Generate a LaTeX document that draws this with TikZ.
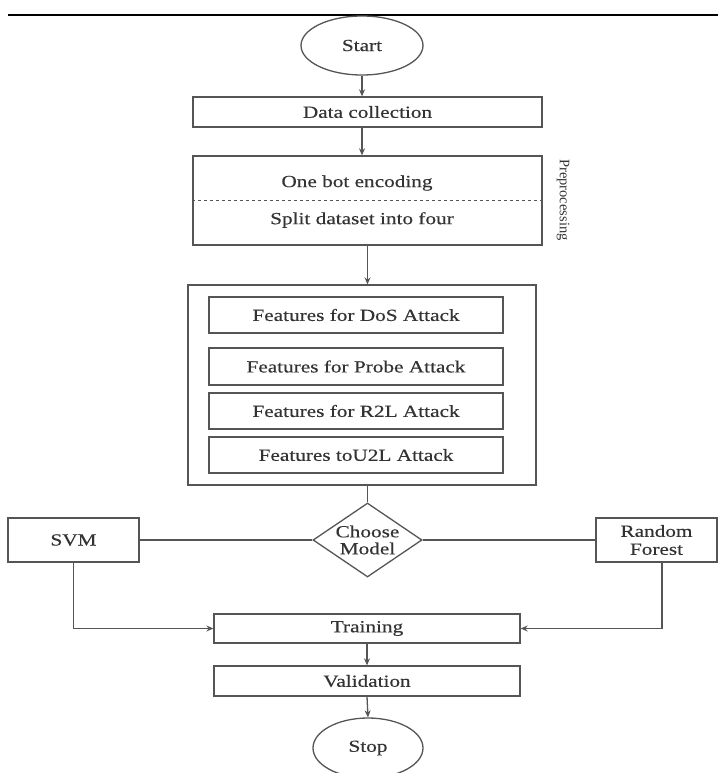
\documentclass[tikz,border=0pt]{standalone}
\usepackage{fontspec}
\setmainfont{Liberation Serif}[FakeStretch=1.25,FakeBold=0.4]
\newfontfamily\labelfont{Liberation Serif}
\usetikzlibrary{shapes.geometric,arrows.meta}
\definecolor{linec}{HTML}{555555}
\definecolor{textc}{HTML}{333333}
\tikzset{
  txt/.style={text=textc,font=\fontsize{17}{18}\selectfont},
  box/.style={draw=linec,line width=1.3pt,rectangle,inner sep=0pt,txt,align=center},
  oval/.style={draw=linec,line width=1.3pt,ellipse,inner sep=0pt,txt},
  plain/.style={txt,inner sep=0pt},
  conn/.style={draw=linec,line width=1.3pt},
  arr/.style={conn,-{Stealth[length=7pt,width=6pt]}}
}
\begin{document}
\begin{tikzpicture}[x=1pt,y=-1pt]
\useasboundingbox (0,0) rectangle (718,773);
\coordinate (tl) at (8,15);
\coordinate (tr) at (718,15);
\draw[line width=2.5pt,black] (tl) -- (tr);
\node[oval,minimum width=122pt,minimum height=59pt] (start) at (362,45.5) {Start};
\node[box,minimum width=349pt,minimum height=30pt] (data) at (367.5,112) {Data collection};
\node[box,minimum width=349pt,minimum height=89pt] (pre) at (367.5,200.5) {};
\draw[conn,line width=0.8pt,dashed] (pre.west) -- (pre.east);
\node[plain] (enc) at (357,183) {One bot encoding};
\node[plain] (split) at (362,220) {Split dataset into four};
\node[text=textc,inner sep=0pt,rotate=-90,font=\labelfont\fontsize{14.5}{16}\selectfont] (prel) at (563,200) {Preprocessing};
\node[box,minimum width=348pt,minimum height=200pt] (feat) at (362,385) {};
\node[box,minimum width=294pt,minimum height=36pt] (dos) at (356,315) {Features for DoS Attack};
\node[box,minimum width=294pt,minimum height=37pt] (probe) at (356,366.5) {Features for Probe Attack};
\node[box,minimum width=294pt,minimum height=36pt] (r2l) at (356,411) {Features for R2L Attack};
\node[box,minimum width=294pt,minimum height=36pt] (u2l) at (356,455) {Features toU2L Attack};
\node[box,diamond,minimum width=109pt,minimum height=74pt,aspect=1.47] (choose) at (367.5,540) {Choose\\[-1pt]Model};
\node[box,minimum width=131pt,minimum height=44pt] (svm) at (73.5,540) {SVM};
\node[box,minimum width=121pt,minimum height=44pt] (rf) at (656.5,540) {Random\\Forest};
\node[box,minimum width=306pt,minimum height=29pt] (train) at (367,628.5) {Training};
\node[box,minimum width=306pt,minimum height=30pt] (valid) at (367,681) {Validation};
\node[oval,minimum width=110pt,minimum height=60pt] (stop) at (368,748) {Stop};
\draw[arr] (start.south) -- (start.south |- data.north);
\draw[arr] (data.south -| start.south) -- (pre.north -| start.south);
\draw[arr] (pre.south) -- (pre.south |- feat.north);
\draw[conn] (feat.south -| choose.north) -- (choose.north);
\draw[conn] (choose.west) -- (svm.east);
\draw[conn] (choose.east) -- (rf.west);
\draw[arr] (svm.south) |- (train.west);
\draw[arr] ([xshift=5.5pt]rf.south) |- (train.east);
\draw[arr] (train.south) -- (valid.north);
\draw[arr] (valid.south) -- (stop.north);
\end{tikzpicture}
\end{document}
